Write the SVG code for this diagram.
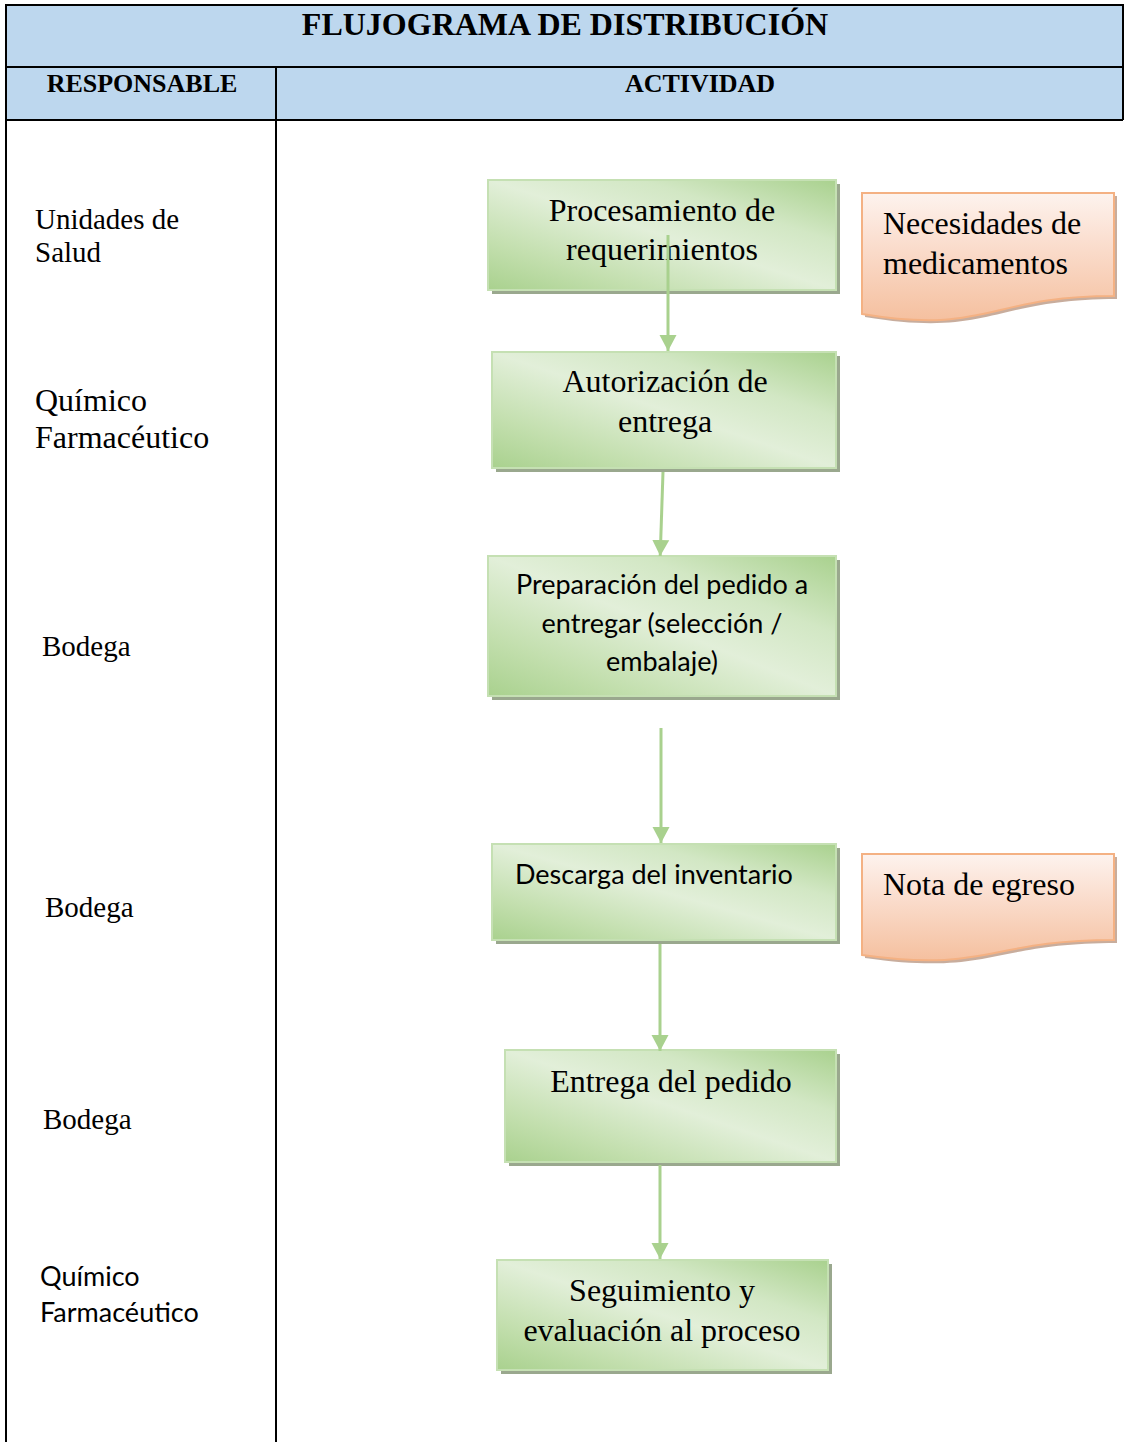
<svg xmlns="http://www.w3.org/2000/svg" width="1124" height="1442" viewBox="0 0 1124 1442">
<style>
.title{font-family:"Liberation Serif",serif;font-weight:bold;font-size:32px;fill:#000}
.hdr{font-family:"Liberation Serif",serif;font-weight:bold;font-size:26px;fill:#000}
.tr{font-family:"Liberation Serif",serif;font-size:29px;fill:#000}
.tr28{font-family:"Liberation Serif",serif;font-size:32px;fill:#000}
.cal{font-family:Lato,"Liberation Sans",sans-serif;font-size:27px;fill:#000}
.grid{stroke:#000;stroke-width:2;fill:none}
.box{fill:url(#gg);stroke:#c5e0b3;stroke-width:2}
.shadow{fill:#9aa88e}
.doc{fill:url(#og);stroke:#f4b183;stroke-width:2}
.dshadow{fill:#b08a74;opacity:0.7}
.conn{stroke:#a9d18e;stroke-width:3;fill:none}
</style>
<defs>
<linearGradient id="gg" x1="0" y1="1" x2="1" y2="0">
<stop offset="0" stop-color="#a9d18e"/>
<stop offset="0.22" stop-color="#c3dfae"/>
<stop offset="0.5" stop-color="#e2efd9"/>
<stop offset="0.72" stop-color="#d2e7c4"/>
<stop offset="1" stop-color="#a9d18e"/>
</linearGradient>
<linearGradient id="og" x1="0" y1="0" x2="0" y2="1">
<stop offset="0" stop-color="#fdf3ee"/>
<stop offset="0.35" stop-color="#fbe0d2"/>
<stop offset="1" stop-color="#f5c09f"/>
</linearGradient>
<marker id="ah" markerWidth="16" markerHeight="18" refX="16" refY="9" orient="auto" markerUnits="userSpaceOnUse">
<path d="M0,0.5 L16,9 L0,17.5 Z" fill="#a9d18e"/>
</marker>
</defs>

<g id="table">
<rect x="6" y="5" width="1117" height="114" fill="#bdd7ee"/>
<line class="grid" x1="6" y1="5" x2="1123" y2="5"/>
<line class="grid" x1="6" y1="67" x2="1123" y2="67"/>
<line class="grid" x1="6" y1="120" x2="1123" y2="120"/>
<line class="grid" x1="6" y1="4" x2="6" y2="1442"/>
<line class="grid" x1="1123" y1="4" x2="1123" y2="120"/>
<line class="grid" x1="276" y1="67" x2="276" y2="1442"/>
<text class="title" x="565" y="35" text-anchor="middle">FLUJOGRAMA DE DISTRIBUCIÓN</text>
<text class="hdr" x="142" y="92" text-anchor="middle">RESPONSABLE</text>
<text class="hdr" x="700" y="92" text-anchor="middle">ACTIVIDAD</text>
</g>

<g id="responsables">
<text class="tr" x="35" y="229">Unidades de</text>
<text class="tr" x="35" y="262">Salud</text>
<text class="tr28" x="35" y="411">Químico</text>
<text class="tr28" x="35" y="448">Farmacéutico</text>
<text class="tr" x="42" y="656">Bodega</text>
<text class="tr" x="45" y="917">Bodega</text>
<text class="tr" x="43" y="1129">Bodega</text>
<text class="cal" x="40" y="1286">Químico</text>
<text class="cal" x="40" y="1322">Farmacéutico</text>
</g>

<g id="n1">
<rect class="shadow" x="492" y="184" width="348" height="110"/>
<rect class="box" x="488" y="180" width="348" height="110"/>
<text class="tr28" x="662" y="221" text-anchor="middle">Procesamiento de</text>
<text class="tr28" x="662" y="260" text-anchor="middle">requerimientos</text>
</g>

<g id="n2">
<rect class="shadow" x="496" y="356" width="344" height="116"/>
<rect class="box" x="492" y="352" width="344" height="116"/>
<text class="tr28" x="665" y="392" text-anchor="middle">Autorización de</text>
<text class="tr28" x="665" y="432" text-anchor="middle">entrega</text>
</g>

<g id="n3">
<rect class="shadow" x="492" y="560" width="348" height="140"/>
<rect class="box" x="488" y="556" width="348" height="140"/>
<text class="cal" x="662" y="594" text-anchor="middle">Preparación del pedido a</text>
<text class="cal" x="662" y="633" text-anchor="middle">entregar (selección /</text>
<text class="cal" x="662" y="671" text-anchor="middle">embalaje)</text>
</g>

<g id="n4">
<rect class="shadow" x="496" y="848" width="344" height="96"/>
<rect class="box" x="492" y="844" width="344" height="96"/>
<text class="cal" x="515" y="884">Descarga del inventario</text>
</g>

<g id="n5">
<rect class="shadow" x="509" y="1054" width="331" height="112"/>
<rect class="box" x="505" y="1050" width="331" height="112"/>
<text class="tr28" x="671" y="1092" text-anchor="middle">Entrega del pedido</text>
</g>

<g id="n6">
<rect class="shadow" x="501" y="1264" width="331" height="110"/>
<rect class="box" x="497" y="1260" width="331" height="110"/>
<text class="tr28" x="662" y="1301" text-anchor="middle">Seguimiento y</text>
<text class="tr28" x="662" y="1341" text-anchor="middle">evaluación al proceso</text>
</g>

<g id="d1">
<path class="dshadow" d="M865,196 L1117,196 L1117,299 C991,299 991,338 865,317 Z"/>
<path class="doc" d="M862,193 L1114,193 L1114,296 C988,296 988,335 862,314 Z"/>
<text class="tr28" x="883" y="234">Necesidades de</text>
<text class="tr28" x="883" y="274">medicamentos</text>
</g>

<g id="d2">
<path class="dshadow" d="M865,857 L1117,857 L1117,943 C991,943 991,976 865,958 Z"/>
<path class="doc" d="M862,854 L1114,854 L1114,940 C988,940 988,973 862,955 Z"/>
<text class="tr28" x="883" y="895">Nota de egreso</text>
</g>

<g id="connectors">
<line class="conn" x1="668" y1="235" x2="668" y2="351" marker-end="url(#ah)"/>
<line class="conn" x1="663" y1="472" x2="660.2" y2="556" marker-end="url(#ah)"/>
<line class="conn" x1="661" y1="728" x2="661" y2="843" marker-end="url(#ah)"/>
<line class="conn" x1="660" y1="944" x2="660" y2="1051" marker-end="url(#ah)"/>
<line class="conn" x1="660" y1="1165" x2="660" y2="1259" marker-end="url(#ah)"/>
</g>
</svg>
